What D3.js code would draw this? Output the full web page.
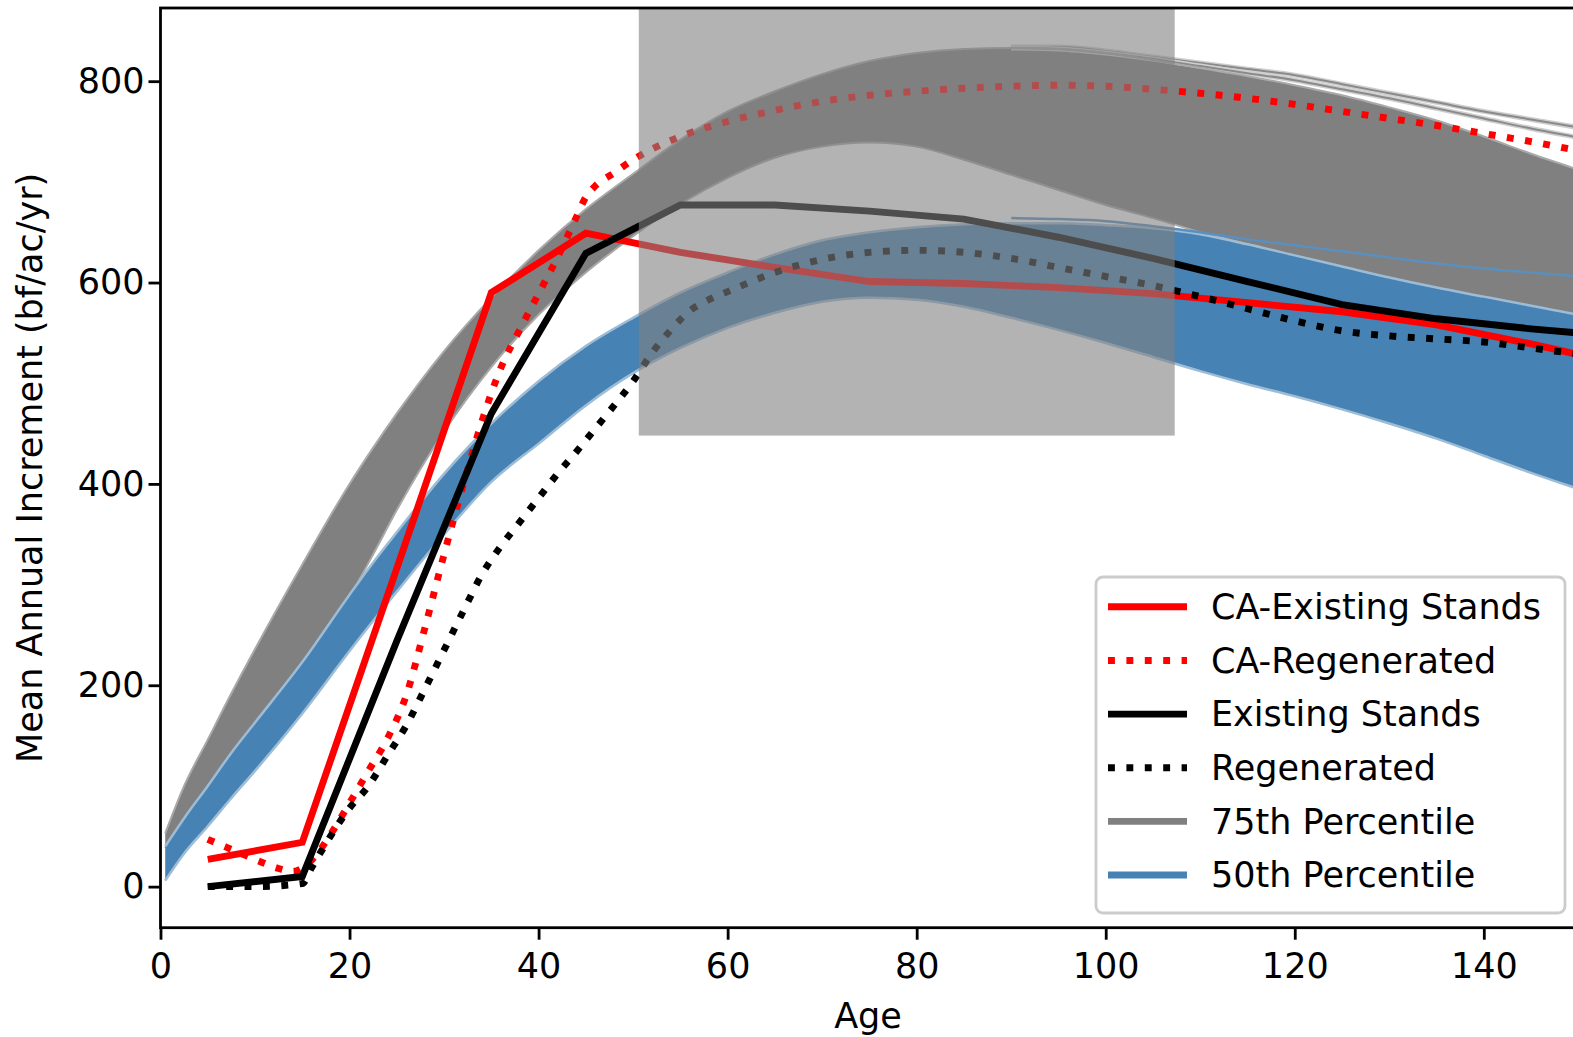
<!DOCTYPE html>
<html>
<head>
<meta charset="utf-8">
<script src="https://cdn.jsdelivr.net/npm/d3@7"></script>
<style>
  html, body { margin: 0; padding: 0; background: #fff; }
  svg { display: block; }
  text { font-family: "DejaVu Sans", sans-serif; fill: #000; }
</style>
</head>
<body>
<svg id="chart" width="1573" height="1037"></svg>
<script>
// ---- Mean annual increment by stand age ----
const xTicks = [0, 20, 40, 60, 80, 100, 120, 140];
const yTicks = [0, 200, 400, 600, 800];

// yield-table ages (decade midpoints)
const tableAges = [5, 15, 25, 35, 45, 55, 65, 75, 85, 95, 105, 115, 125, 135, 145, 155];
const caExisting = [27, 44, 316, 590, 649, 630, 615, 601, 599, 595, 589, 580, 571, 558, 539, 518];
const existing   = [0, 10, 244, 470, 629, 677, 677, 671, 663, 645, 624, 601, 578, 564, 554, 546];

// regenerated-stand curves
const caRegenAges = [5, 7, 9, 10.5, 12.5, 14, 15.5, 17, 18, 20, 22, 24, 26, 28, 30, 32, 34, 36, 38, 40, 42, 44, 45, 46, 48, 50, 55, 60, 65, 70, 75, 80, 85, 90, 95, 100, 105, 110, 115, 120, 125, 130, 135, 140, 145, 150, 155];
const caRegen     = [47, 39, 31, 25, 18, 15, 22, 38, 52, 83, 115, 147, 190, 258, 330, 398, 462, 515, 553, 589, 625, 665, 685, 696, 709, 722, 745, 760, 771, 780, 786, 790, 793, 795, 796, 795, 792, 788, 783, 777, 770, 763, 756, 748, 740, 731, 722];
const regenAges = [5, 10, 15, 16, 17, 20, 22, 24, 26, 28, 30, 32, 34, 36, 38, 40, 42, 44, 46, 48, 50, 52, 54, 56, 58, 60, 65, 70, 75, 80, 85, 90, 95, 100, 105, 110, 115, 120, 125, 130, 135, 140, 145, 150, 155];
const regen     = [0, 0, 3, 19, 35, 78, 100, 130, 160, 197, 235, 273, 310, 338, 362, 386, 410, 432, 455, 478, 502, 530, 553, 572, 583, 591, 610, 623, 630, 632, 630, 624, 615, 606, 597, 586, 574, 562, 552, 547, 544, 541, 535, 529, 524];

// percentile envelopes
const bandAges = [0.5, 2.5, 5, 7.5, 10, 15, 20, 22.5, 25, 30, 35, 40, 45, 50, 55, 60, 65, 70, 75, 80, 85, 90, 95, 100, 105, 110, 115, 120, 125, 130, 135, 140, 145, 150, 155];
const p75Upper = [53, 100, 146, 192, 236, 320, 400, 436, 470, 532, 585, 632, 673, 708, 742, 770, 790, 807, 820, 828, 832, 833, 832, 828, 821, 813, 805, 796, 786, 774, 761, 745, 728, 712, 695];
const p75Lower = [38, 66, 98, 132, 162, 222, 288, 330, 374, 452, 516, 568, 610, 646, 678, 704, 724, 735, 739, 735, 722, 707, 692, 677, 664, 650, 638, 625, 613, 600, 590, 580, 570, 560, 550];
const p50Upper = [40, 68, 100, 133, 163, 223, 290, 322, 352, 410, 460, 502, 537, 565, 590, 610, 628, 642, 650, 655, 658, 659, 659, 657, 654, 648, 638, 627, 616, 605, 595, 586, 577, 568, 560];
const p50Lower = [6, 33, 60, 88, 115, 172, 234, 264, 293, 350, 402, 440, 478, 510, 535, 555, 570, 581, 585, 583, 576, 565, 553, 540, 526, 512, 499, 487, 474, 460, 445, 428, 411, 395, 380];

// individual percentile runs that stray from the main envelopes
const strayAges = [90, 95, 100, 105, 110, 115, 120, 125, 130, 135, 140, 145, 150, 155];
const p75StrayA = [834, 834, 830, 824, 818, 812, 806, 797, 788, 779, 770, 762, 754, 746];
const p75StrayB = [833, 832, 828, 822, 815, 808, 801, 792, 783, 773, 763, 753, 744, 735];
const p50Stray  = [664, 663, 661, 656, 650, 643, 637, 631, 625, 619, 614, 610, 606, 602];

// highlighted age window
const windowAges = [50.6, 107.3];
const windowFloor = 448;

const legendLabels = ["CA-Existing Stands", "CA-Regenerated", "Existing Stands", "Regenerated", "75th Percentile", "50th Percentile"];

// ---- layout ----
const svg = d3.select("#chart");
const plot = { left: 160.5, right: 1575.5, top: 8, bottom: 927.7 };
const x = d3.scaleLinear().domain([0, 149.7]).range([plot.left, plot.right]);
const y = d3.scaleLinear().domain([-40.8, 872.7]).range([plot.bottom, plot.top]);

const fontSize = 35;
const lw = 6.9;
const dotDash = "6.9,11.5";

svg.append("defs").append("clipPath").attr("id", "plotClip")
  .append("rect")
  .attr("x", plot.left).attr("y", plot.top)
  .attr("width", plot.right - plot.left).attr("height", plot.bottom - plot.top);

const g = svg.append("g").attr("clip-path", "url(#plotClip)");

const zipPts = (ages, vals) => ages.map((a, i) => [a, vals[i]]);
const lineLinear = d3.line().x(d => x(d[0])).y(d => y(d[1]));
const lineSmooth = d3.line().x(d => x(d[0])).y(d => y(d[1])).curve(d3.curveMonotoneX);
const band = (up, lo) => d3.area()
  .x((d, i) => x(bandAges[i]))
  .y0((d, i) => y(lo[i]))
  .y1((d, i) => y(up[i]))
  .curve(d3.curveMonotoneX)(bandAges);

// 75th percentile envelope
g.append("path").attr("d", band(p75Upper, p75Lower)).attr("fill", "#808080");
[p75StrayA, p75StrayB].forEach(s => {
  g.append("path").attr("d", lineSmooth(zipPts(strayAges, s)))
    .attr("fill", "none").attr("stroke", "#cfcfcf").attr("stroke-width", 5);
  g.append("path").attr("d", lineSmooth(zipPts(strayAges, s)))
    .attr("fill", "none").attr("stroke", "#8a8a8a").attr("stroke-width", 2);
});
[p75Upper, p75Lower].forEach(edge => {
  g.append("path").attr("d", lineSmooth(zipPts(bandAges, edge)))
    .attr("fill", "none").attr("stroke", "#a9a9a9").attr("stroke-width", 2);
});

// 50th percentile envelope
g.append("path").attr("d", band(p50Upper, p50Lower)).attr("fill", "#4682b4");
[p50Upper, p50Lower].forEach(edge => {
  g.append("path").attr("d", lineSmooth(zipPts(bandAges, edge)))
    .attr("fill", "none").attr("stroke", "#9dbcd6").attr("stroke-width", 2.5);
});
g.append("path").attr("d", lineSmooth(zipPts(strayAges, p50Stray)))
  .attr("fill", "none").attr("stroke", "#5b8fbd").attr("stroke-width", 2.5);

// stand curves
g.append("path").attr("d", lineLinear(zipPts(tableAges, caExisting)))
  .attr("fill", "none").attr("stroke", "#ff0000").attr("stroke-width", lw);
g.append("path").attr("d", lineSmooth(zipPts(caRegenAges, caRegen)))
  .attr("fill", "none").attr("stroke", "#ff0000").attr("stroke-width", lw)
  .attr("stroke-dasharray", dotDash);
g.append("path").attr("d", lineLinear(zipPts(tableAges, existing)))
  .attr("fill", "none").attr("stroke", "#000").attr("stroke-width", lw);
g.append("path").attr("d", lineSmooth(zipPts(regenAges, regen)))
  .attr("fill", "none").attr("stroke", "#000").attr("stroke-width", lw)
  .attr("stroke-dasharray", dotDash);

// shaded age window
g.append("rect")
  .attr("x", x(windowAges[0])).attr("width", x(windowAges[1]) - x(windowAges[0]))
  .attr("y", plot.top - 10).attr("height", y(windowFloor) - plot.top + 10)
  .attr("fill", "#808080").attr("fill-opacity", 0.6);

// ---- axes ----
const yAxis = svg.append("g").attr("transform", `translate(${plot.left},0)`)
  .call(d3.axisLeft(y).tickValues(yTicks).tickSize(12).tickPadding(4).tickFormat(d3.format("d")));
const xAxis = svg.append("g").attr("transform", `translate(0,${plot.bottom})`)
  .call(d3.axisBottom(x).tickValues(xTicks).tickSize(12).tickPadding(13.5).tickFormat(d3.format("d")));
[xAxis, yAxis].forEach(ax => {
  ax.select(".domain").remove();
  ax.selectAll(".tick line").attr("stroke", "#000").attr("stroke-width", 2.8);
  ax.selectAll(".tick text").attr("font-size", fontSize).attr("font-family", "DejaVu Sans").attr("fill", "#000");
});

// spines
svg.append("rect")
  .attr("x", plot.left).attr("y", plot.top)
  .attr("width", plot.right - plot.left).attr("height", plot.bottom - plot.top)
  .attr("fill", "none").attr("stroke", "#000").attr("stroke-width", 2.8);

// axis titles
svg.append("text")
  .attr("x", (plot.left + plot.right) / 2).attr("y", 1028)
  .attr("text-anchor", "middle").attr("font-size", fontSize)
  .text("Age");
svg.append("text")
  .attr("transform", `translate(42,${(plot.top + plot.bottom) / 2}) rotate(-90)`)
  .attr("text-anchor", "middle").attr("font-size", fontSize)
  .text("Mean Annual Increment (bf/ac/yr)");

// ---- legend ----
const legendStyles = [
  { color: "#ff0000", dash: null },
  { color: "#ff0000", dash: dotDash },
  { color: "#000000", dash: null },
  { color: "#000000", dash: dotDash },
  { color: "#808080", dash: null },
  { color: "#4682b4", dash: null }
];
const lg = svg.append("g");
lg.append("rect")
  .attr("x", 1096).attr("y", 577).attr("width", 469).attr("height", 336)
  .attr("rx", 7).attr("fill", "#fff").attr("fill-opacity", 0.8)
  .attr("stroke", "#cccccc").attr("stroke-width", 2.8);
const rowY = d3.scaleLinear().domain([0, 5]).range([606.8, 875]);
legendLabels.forEach((label, i) => {
  const yy = rowY(i);
  const st = legendStyles[i];
  const h = lg.append("line")
    .attr("x1", 1108).attr("x2", 1187).attr("y1", yy).attr("y2", yy)
    .attr("stroke", st.color).attr("stroke-width", lw);
  if (st.dash) h.attr("stroke-dasharray", st.dash);
  lg.append("text")
    .attr("x", 1211).attr("y", yy + 12.2)
    .attr("font-size", fontSize)
    .text(label);
});
</script>
</body>
</html>
